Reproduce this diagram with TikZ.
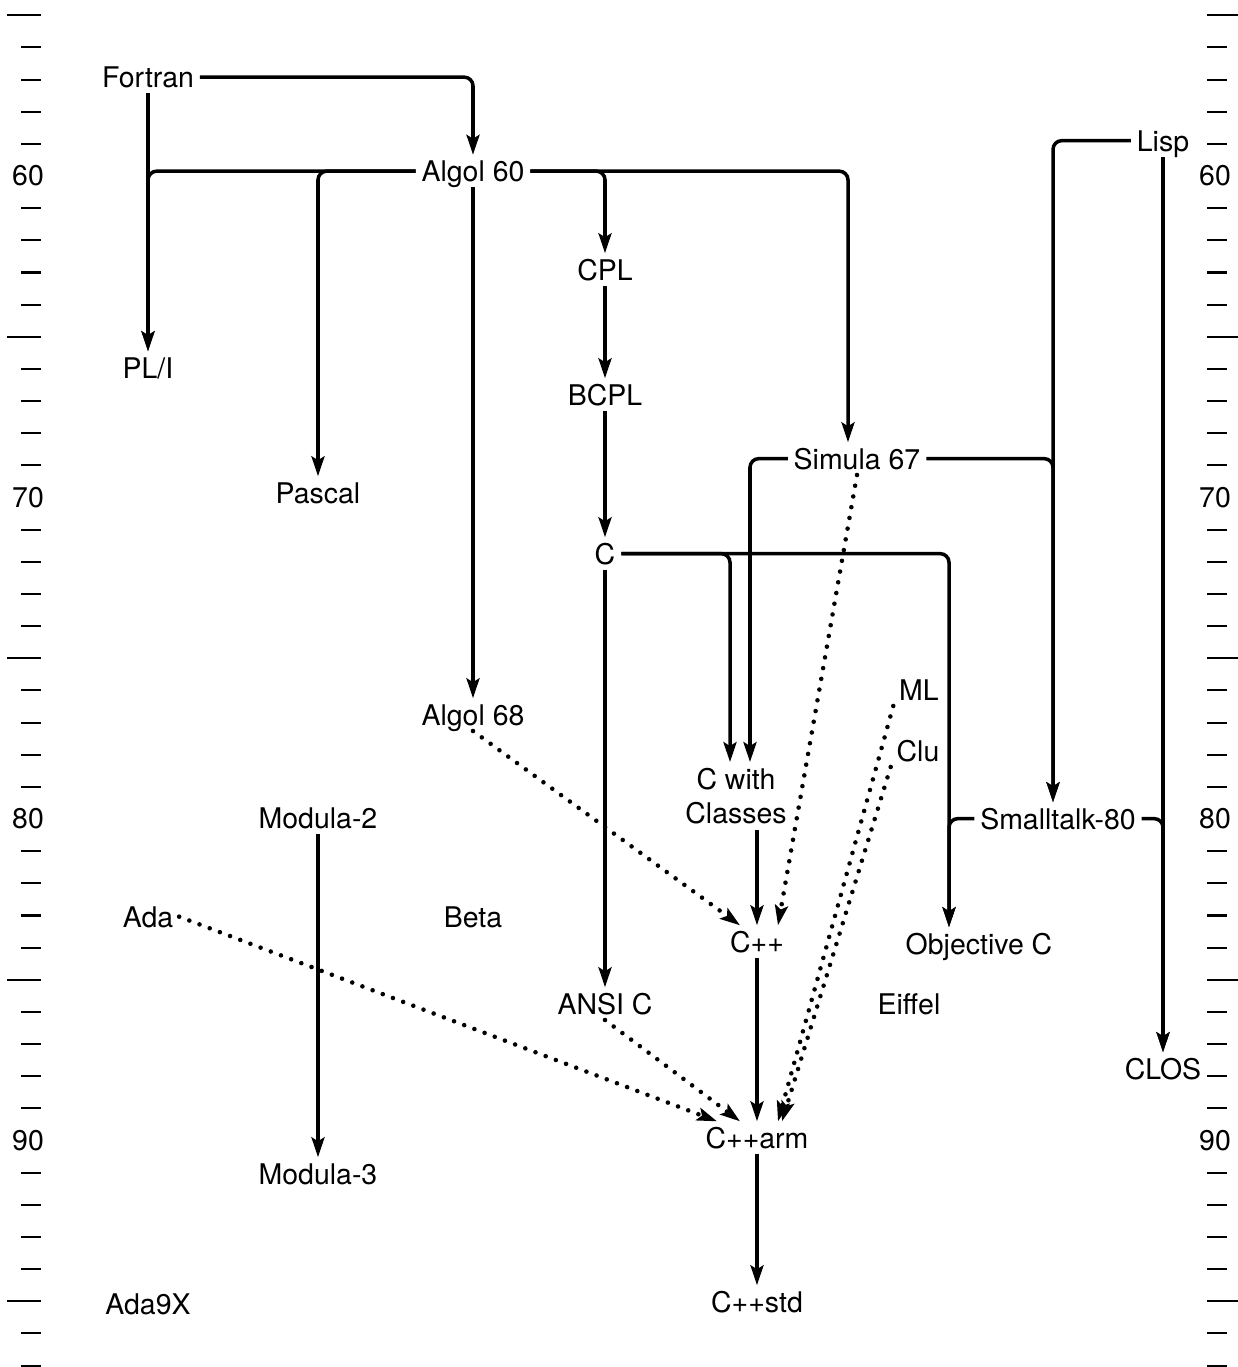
\documentclass[tikz,border=0pt]{standalone}
\usepackage{fontspec}
\setmainfont{TeX Gyre Heros}
\usetikzlibrary{arrows.meta}

\tikzset{
  langfont/.style={font=\fontsize{16.2}{19.4}\selectfont},
  lang/.style={langfont, inner sep=3.2pt, text height=11.8pt, text depth=0pt, anchor=base},
  langbox/.style={langfont, inner sep=3.2pt, align=center},
  link/.style={line width=2pt, rounded corners=5pt,
    -{Stealth[length=4mm, width=2.6mm, inset=0.8mm]}},
  infl/.style={link, line cap=round, dash pattern=on 0pt off 6.2pt, line width=2.6pt},
  tick/.style={line width=1.2pt},
}

\begin{document}
\begin{tikzpicture}[x=0.02cm, y=-0.02cm]
  \useasboundingbox (0,0) rectangle (1238,1367);
  % Year scale on both sides: labels every ten years, long ticks at fives
  \foreach \yr in {55,...,97} {
    \pgfmathsetmacro\ypos{176+(\yr-60)*32.15}
    \pgfmathtruncatemacro\rest{mod(\yr,10)}
    \pgfmathtruncatemacro\half{mod(\yr,5)}
    \ifnum\rest=0
      \node[langfont] (yl\yr) at (28,\ypos) {\yr};
      \node[langfont] (yr\yr) at (1215,\ypos) {\yr};
    \else\ifnum\half=0
      \draw[tick] (7,\ypos) -- (41,\ypos);
      \draw[tick] (1207,\ypos) -- (1238,\ypos);
    \else
      \draw[tick] (21,\ypos) -- (41,\ypos);
      \draw[tick] (1207,\ypos) -- (1227,\ypos);
    \fi\fi
  }
  % Languages, placed on their baselines
  \node[lang] (fortran) at (148,87.5) {Fortran};
  \node[lang] (algolsixty) at (473,181.5) {Algol 60};
  \node[lang] (lisp) at (1163,151) {Lisp};
  \node[lang] (cpl) at (605,280) {CPL};
  \node[lang] (pli) at (148,378) {PL/I};
  \node[lang] (bcpl) at (605,405) {BCPL};
  \node[lang] (pascal) at (318,503) {Pascal};
  \node[lang] (simula) at (857,469) {Simula 67};
  \node[lang] (c) at (605,564) {C};
  \node[lang] (algolsixtyeight) at (473,725) {Algol 68};
  \node[lang] (ml) at (919,700) {ML};
  \node[lang] (clu) at (918,761) {Clu};
  \node[langbox] (cwc) at (736,796) {C with\\Classes};
  \node[lang] (smalltalk) at (1058,829) {Smalltalk-80};
  \node[lang] (modulatwo) at (318,828) {Modula-2};
  \node[lang] (ada) at (148,927) {Ada};
  \node[lang] (beta) at (473,927) {Beta};
  \node[lang] (cpp) at (757,952) {C++};
  \node[lang] (objc) at (979,954) {Objective C};
  \node[lang] (ansic) at (605,1014) {ANSI C};
  \node[lang] (eiffel) at (909,1014) {Eiffel};
  \node[lang] (clos) at (1163,1079) {CLOS};
  \node[lang] (cpparm) at (757,1148) {C++arm};
  \node[lang] (modulathree) at (318,1184) {Modula-3};
  \node[lang] (adanine) at (148,1314) {Ada9X};
  \node[lang] (cppstd) at (757,1312) {C++std};
  % Fortran
  \draw[link] (fortran.east) -| (algolsixty.north);
  \draw[link] (fortran) -- (pli);
  % Algol 60 branches
  \draw[link] (algolsixty.west) -| (pli.north);
  \draw[link] (algolsixty.west) -| (pascal.north);
  \draw[link] (algolsixty) -- (algolsixtyeight);
  \draw[link] (algolsixty.east) -| (cpl.north);
  \draw[link] (algolsixty.east) -| ([xshift=-0.18cm]simula.north);
  % CPL, BCPL, C
  \draw[link] (cpl) -- (bcpl);
  \draw[link] (bcpl) -- (c);
  \draw[link] (c) -- (ansic);
  \draw[link] (c.east) -| ([xshift=-0.12cm]cwc.north);
  \draw[link] (c.east) -| ([xshift=-0.6cm]objc.north);
  % Simula 67 and Lisp
  \draw[link] (simula.west) -| ([xshift=0.28cm]cwc.north);
  \draw[link] (simula.east) -| ([xshift=-0.1cm]smalltalk.north);
  \draw[link] (lisp.west) -| ([xshift=-0.1cm]smalltalk.north);
  \draw[link] (lisp) -- (clos);
  % Smalltalk-80 joins Objective C and CLOS
  \draw[link] (smalltalk.west) -| ([xshift=-0.6cm]objc.north);
  \draw[link] (smalltalk.east) -| (clos.north);
  % C++ line
  \draw[link] (cwc.south -| cpp.north) -- (cpp);
  \draw[link] (cpp) -- (cpparm);
  \draw[link] (cpparm) -- (cppstd);
  \draw[link] (modulatwo) -- (modulathree);
  % Dotted influences
  \draw[infl] (simula.south) -- ([xshift=0.42cm]cpp.north);
  \draw[infl] (algolsixtyeight.south) -- ([xshift=-0.34cm]cpp.north);
  \draw[infl] (ada.east) -- ([xshift=-0.8cm]cpparm.north);
  \draw[infl] (ansic.south) -- ([xshift=-0.34cm]cpparm.north);
  \draw[infl] (ml.south west) -- ([xshift=0.42cm]cpparm.north);
  \draw[infl] (clu.south west) -- ([xshift=0.5cm]cpparm.north);
\end{tikzpicture}
\end{document}
